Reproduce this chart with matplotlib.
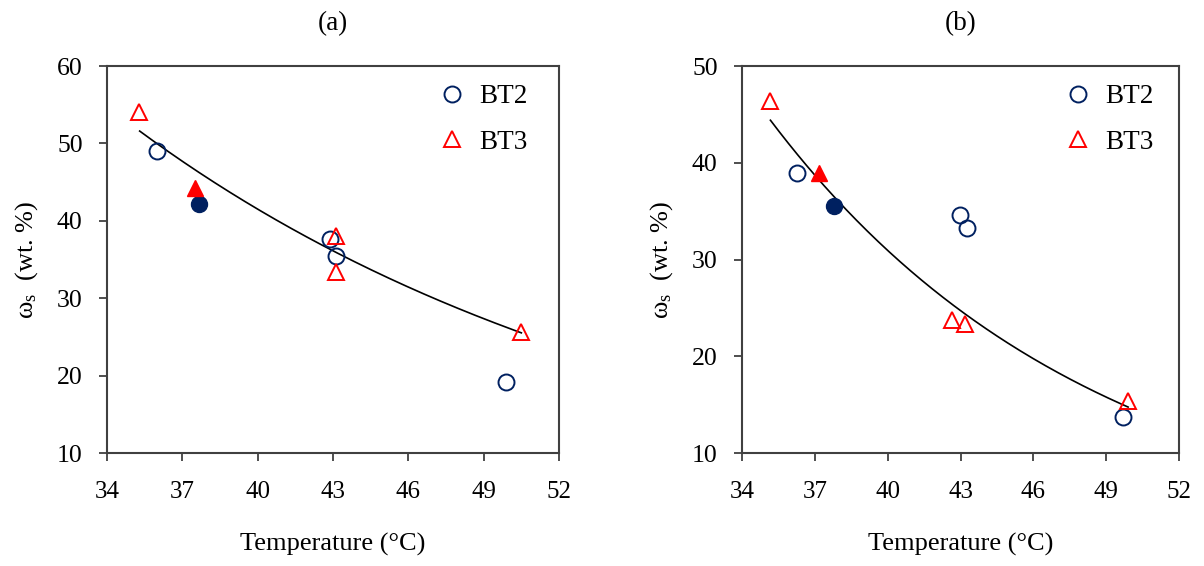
import numpy as np
import matplotlib
matplotlib.use("Agg")
import matplotlib.pyplot as plt
from matplotlib.transforms import offset_copy

plt.rcParams.update({
    "font.family": ["Liberation Serif", "DejaVu Serif"],
    "font.size": 17,
    "mathtext.fontset": "custom",
    "mathtext.rm": "Liberation Serif",
    "mathtext.it": "Liberation Serif:italic",
})

C_NAVY = "#002060"
C_RED = "#FF0000"
C_SPINE = "#404040"

# ── Panel (a) data ────────────────────────────────────────────────────────────
a_bt2_t = [35.98, 42.88, 43.10, 49.90]
a_bt2_w = [49.0, 37.6, 35.5, 19.2]
a_bt3_t = [35.29, 43.10, 43.10, 50.50]
a_bt3_w = [54.0, 38.0, 33.4, 25.7]
a_bt2_fill_t = [37.68]
a_bt2_fill_w = [42.2]
a_bt3_fill_t = [37.49]
a_bt3_fill_w = [44.2]
# exponential trend line: w = A * exp(B * T)
a_trend_range = [35.3, 50.5]
a_trend_A = 51.6 * np.exp(0.0463 * 35.3)
a_trend_B = -0.0463

# ── Panel (b) data ────────────────────────────────────────────────────────────
b_bt2_t = [36.28, 42.99, 43.28, 49.69]
b_bt2_w = [38.9, 34.6, 33.3, 13.7]
b_bt3_t = [35.17, 42.65, 43.17, 49.90]
b_bt3_w = [46.4, 23.8, 23.3, 15.4]
b_bt2_fill_t = [37.79]
b_bt2_fill_w = [35.5]
b_bt3_fill_t = [37.17]
b_bt3_fill_w = [38.9]
b_trend_range = [35.17, 49.9]
b_trend_A = 44.4 * np.exp(0.0748 * 35.17)
b_trend_B = -0.0748

x_ticks = [34, 37, 40, 43, 46, 49, 52]

fig = plt.figure(figsize=(12.04, 5.66), dpi=100)
ax_a = fig.add_axes([0.0889, 0.1996, 0.3754, 0.6837])
ax_b = fig.add_axes([0.6163, 0.1996, 0.3630, 0.6837])


def panel(ax, title, bt2_t, bt2_w, bt3_t, bt3_w, f2_t, f2_w, f3_t, f3_w,
          trend_range, A, B, ylim, yticks, leg_dx):
    tt = np.linspace(trend_range[0], trend_range[1], 200)
    ax.plot(tt, A * np.exp(B * tt), color="black", lw=1.2, zorder=2)
    ax.plot(bt2_t, bt2_w, ls="none", marker="o", ms=11.5, mfc="none",
            mec=C_NAVY, mew=1.4, label="BT2", zorder=3)
    ax.plot(bt3_t, bt3_w, ls="none", marker="^", ms=12, mfc="none",
            mec=C_RED, mew=1.4, label="BT3", zorder=3)
    ax.plot(f2_t, f2_w, ls="none", marker="o", ms=11.5, mfc=C_NAVY,
            mec=C_NAVY, zorder=3)
    ax.plot(f3_t, f3_w, ls="none", marker="^", ms=12, mfc=C_RED,
            mec=C_RED, zorder=3)

    ax.set_xlim(34, 52)
    ax.set_ylim(*ylim)
    ax.set_xticks(x_ticks)
    ax.set_yticks(yticks)
    ax.tick_params(direction="out", length=5.5, width=1.3, color=C_SPINE)
    ax.tick_params(axis="x", pad=15, labelsize=18)
    ax.tick_params(axis="y", pad=12, labelsize=18.5)
    for s in ax.spines.values():
        s.set_color(C_SPINE)
        s.set_linewidth(1.5)

    ax.set_xlabel("Temperature (°C)", fontsize=19, labelpad=21)
    ax.set_ylabel(r"$\mathrm{\omega_s}$  (wt. %)", fontsize=19, labelpad=12)
    ax.set_title(title, fontsize=19.5, pad=26)

    anchor = offset_copy(ax.transAxes, fig=fig, x=-leg_dx, y=-2, units="dots")
    ax.legend(loc="upper right", frameon=False, fontsize=19.5,
              handletextpad=0.5, labelspacing=0.75, borderaxespad=0.3,
              handlelength=1.0, borderpad=0.3,
              bbox_to_anchor=(1, 1), bbox_transform=anchor)


panel(ax_a, "(a)", a_bt2_t, a_bt2_w, a_bt3_t, a_bt3_w,
      a_bt2_fill_t, a_bt2_fill_w, a_bt3_fill_t, a_bt3_fill_w,
      a_trend_range, a_trend_A, a_trend_B, (10, 60), range(10, 61, 10), 15)
panel(ax_b, "(b)", b_bt2_t, b_bt2_w, b_bt3_t, b_bt3_w,
      b_bt2_fill_t, b_bt2_fill_w, b_bt3_fill_t, b_bt3_fill_w,
      b_trend_range, b_trend_A, b_trend_B, (10, 50), range(10, 51, 10), 9)

fig.savefig("out.png", dpi=100, facecolor="white")
